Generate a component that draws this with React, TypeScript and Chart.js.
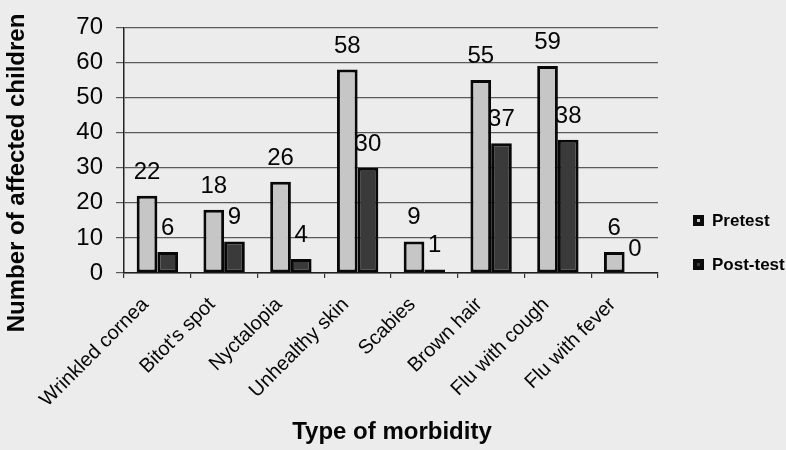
import React, { useEffect, useRef } from "react";
import { Chart, registerables } from "chart.js";

Chart.register(...registerables);

const categories = [
  "Wrinkled cornea",
  "Bitot's spot",
  "Nyctalopia",
  "Unhealthy skin",
  "Scabies",
  "Brown hair",
  "Flu with cough",
  "Flu with fever",
];
const pretest = [22, 18, 26, 58, 9, 55, 59, 6];
const posttest = [6, 9, 4, 30, 1, 37, 38, 0];
const seriesNames = ["Pretest", "Post-test"];
const yMin = 0;
const yMax = 70;
const yStep = 10;
const xTitle = "Type of morbidity";
const yTitle = "Number of affected children";

const FONT = "'Liberation Sans', Arial, Helvetica, sans-serif";
const PRE_COLOR = "#c6c6c6";
const POST_COLOR = "#3a3a3a";

const bgPlugin = {
  id: "bg",
  beforeDraw(chart: any) {
    const { ctx, width, height } = chart;
    ctx.save();
    ctx.fillStyle = "#ececec";
    ctx.fillRect(0, 0, width, height);
    ctx.restore();
  },
};

const valueLabels = {
  id: "valueLabels",
  beforeDatasetsDraw(chart: any) {
    const { ctx } = chart;
    ctx.save();
    ctx.font = `24px ${FONT}`;
    ctx.fillStyle = "#050505";
    ctx.textAlign = "center";
    ctx.textBaseline = "alphabetic";
    chart.data.datasets.forEach((ds: any, di: number) => {
      const meta = chart.getDatasetMeta(di);
      meta.data.forEach((bar: any, i: number) => {
        ctx.fillText(String(ds.data[i]), bar.x, bar.y - 17);
      });
    });
    ctx.restore();
  },
};

const annotations = {
  id: "annotations",
  afterDraw(chart: any) {
    const { ctx } = chart;
    ctx.save();
    ctx.fillStyle = "#050505";
    ctx.font = `bold 24px ${FONT}`;
    ctx.textAlign = "center";
    ctx.textBaseline = "middle";
    ctx.translate(17, 173);
    ctx.rotate(-Math.PI / 2);
    ctx.fillText(yTitle, 0, 0);
    ctx.restore();

    ctx.save();
    ctx.fillStyle = "#050505";
    ctx.font = `bold 24px ${FONT}`;
    ctx.textAlign = "center";
    ctx.textBaseline = "alphabetic";
    ctx.fillText(xTitle, 392, 439);
    ctx.restore();

    ctx.save();
    const fills = [PRE_COLOR, POST_COLOR];
    const ys = [221, 265];
    ctx.font = `bold 17px ${FONT}`;
    ctx.textAlign = "left";
    ctx.textBaseline = "middle";
    seriesNames.forEach((name, i) => {
      const y = ys[i];
      ctx.fillStyle = "#0a0a0a";
      ctx.fillRect(693, y - 6, 11, 11);
      ctx.fillStyle = fills[i];
      ctx.fillRect(697, y - 2, 3, 3);
      ctx.fillStyle = "#050505";
      ctx.fillText(name, 712, y);
    });
    ctx.restore();
  },
};

export default function App() {
  const canvasRef = useRef<HTMLCanvasElement | null>(null);

  useEffect(() => {
    if (!canvasRef.current) return;
    const bw = (c: any) => (c.raw === 0 ? 0 : 3);
    const chart = new Chart(canvasRef.current, {
      type: "bar",
      data: {
        labels: categories,
        datasets: [
          {
            label: seriesNames[0],
            data: pretest,
            backgroundColor: PRE_COLOR,
            borderColor: "#080808",
            borderWidth: bw,
            borderSkipped: false,
            categoryPercentage: 0.62,
            barPercentage: 1,
          },
          {
            label: seriesNames[1],
            data: posttest,
            backgroundColor: POST_COLOR,
            borderColor: "#080808",
            borderWidth: bw,
            borderSkipped: false,
            categoryPercentage: 0.62,
            barPercentage: 1,
          },
        ],
      },
      options: {
        animation: false,
        responsive: true,
        maintainAspectRatio: false,
        layout: { padding: { left: 0, right: 128, top: 22, bottom: 0 } },
        plugins: {
          legend: { display: false },
          tooltip: { enabled: false },
          title: { display: false },
        },
        scales: {
          x: {
            afterFit: (s: any) => {
              s.height = 177;
            },
            grid: {
              drawOnChartArea: false,
              drawTicks: true,
              tickLength: 5,
              color: "#333",
              lineWidth: 1.2,
            },
            border: { display: true, color: "#222", width: 1.5 },
            ticks: {
              autoSkip: false,
              minRotation: 45,
              maxRotation: 45,
              labelOffset: -12,
              padding: 15,
              color: "#050505",
              font: { family: FONT, size: 20 },
            },
          },
          y: {
            min: yMin,
            max: yMax,
            afterFit: (s: any) => {
              s.width = 124;
            },
            grid: {
              color: "#5a5a5a",
              lineWidth: 1.2,
              tickLength: 8,
            },
            border: { display: true, color: "#222", width: 1.5 },
            ticks: {
              stepSize: yStep,
              padding: 13,
              color: "#050505",
              font: { family: FONT, size: 24 },
            },
          },
        },
      },
      plugins: [bgPlugin, valueLabels, annotations],
    });
    return () => chart.destroy();
  }, []);

  return (
    <div style={{ position: "absolute", left: 0, top: 0, width: 786, height: 450 }}>
      <canvas ref={canvasRef} />
    </div>
  );
}
